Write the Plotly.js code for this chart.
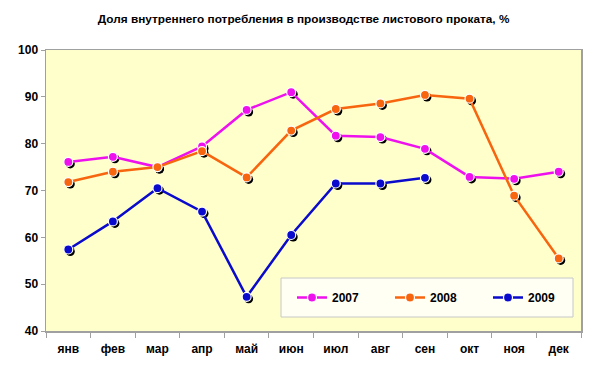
<!DOCTYPE html>
<html><head><meta charset="utf-8">
<script src="https://cdn.plot.ly/plotly-3.0.1.min.js"></script>
<style>html,body{margin:0;padding:0;background:#fff}#chart{width:600px;height:369px}</style>
</head><body><div id="chart"></div>
<script>
const months = ["янв","фев","мар","апр","май","июн","июл","авг","сен","окт","ноя","дек"];
const y2007 = [76.1, 77.2, 75.0, 79.4, 87.2, 91.0, 81.7, 81.4, 78.9, 72.9, 72.5, 74.0];
const y2008 = [71.8, 74.0, 75.0, 78.4, 72.8, 82.8, 87.4, 88.6, 90.4, 89.6, 68.9, 55.5];
const y2009 = [57.4, 63.4, 70.5, 65.5, 47.3, 60.5, 71.5, 71.5, 72.7, null, null, null];
const seriesNames = ["2007","2008","2009"];
const seriesColors = ["#EE11EE","#F8650F","#0A0ACC"];
const seriesData = [y2007, y2008, y2009];

const W = 600, H = 369;
const m = {l:46, r:19, t:50, b:38};
const pw = W - m.l - m.r, ph = H - m.t - m.b;
const sx = 2*12/pw, sy = 2*60/ph;   // 2px shadow offset in axis units
const FONT = 'Liberation Sans, Arial, sans-serif';

const traces = [];
// frame axis holder (no visible marks)
traces.push({x:months, y:months.map(()=>null), type:'scatter', mode:'lines', showlegend:false, hoverinfo:'skip'});
// shadows (drawn on a 2px-shifted overlay axis pair)
seriesData.forEach((d,i)=>{
  traces.push({x:months, y:d, type:'scatter', mode:'markers', xaxis:'x2', yaxis:'y2',
    marker:{color:'#000', size:9}, showlegend:false, hoverinfo:'skip'});
});
seriesData.forEach((d,i)=>{
  traces.push({x:months, y:d, name:seriesNames[i], type:'scatter', mode:'lines+markers', xaxis:'x3', yaxis:'y3',
    line:{color:seriesColors[i], width:2.5},
    marker:{color:seriesColors[i], size:9, line:{color:'#fff', width:1.2}}});
});
const axisCommon = {showgrid:false, zeroline:false};
const hiddenX = r => Object.assign({}, axisCommon, {type:'category', visible:false, categoryarray:months, categoryorder:'array', range:r});
const hiddenY = r => Object.assign({}, axisCommon, {range:r, visible:false});
const layout = {
  width:W, height:H, margin:m,
  paper_bgcolor:'#fff', plot_bgcolor:'#FFFFCC',
  font:{family:FONT, size:11, color:'#000'},
  title:{text:'Доля внутреннего потребления в производстве листового проката, %',
    x:0.506, xanchor:'center', y:1-19/H, yanchor:'middle', font:{size:11.8, weight:'bold'}},
  xaxis:Object.assign({}, axisCommon, {type:'category', domain:[0,1], categoryarray:months, categoryorder:'array', range:[-0.5,11.5],
    showline:true, linecolor:'#A0A0A0', linewidth:1.5,
    mirror:true, ticks:'outside', tickson:'boundaries', ticklen:5, tickcolor:'#A0A0A0',
    tickfont:{size:12, family:FONT, weight:'bold'}, ticklabelstandoff:6}),
  yaxis:Object.assign({}, axisCommon, {range:[40,100], dtick:10, showline:true, linecolor:'#A0A0A0', linewidth:1.5,
    mirror:true, ticks:'outside', ticklen:4, tickcolor:'#A0A0A0', tickfont:{size:12, family:FONT, weight:'bold'}}),
  xaxis2:Object.assign(hiddenX([-0.5 - sx, 11.5 - sx]), {overlaying:'x', anchor:'y2'}),
  yaxis2:Object.assign(hiddenY([40 + sy, 100 + sy]), {overlaying:'y', anchor:'x2'}),
  xaxis3:Object.assign(hiddenX([-0.5, 11.5]), {overlaying:'x', anchor:'y3'}),
  yaxis3:Object.assign(hiddenY([40, 100]), {overlaying:'y', anchor:'x3'}),
  shapes:[{type:'rect', xref:'paper', yref:'paper', x0:(281-46)/pw, x1:(573-46)/pw,
    y0:(331-317)/ph, y1:(331-278)/ph, fillcolor:'#FFFFF4', line:{color:'#C8C8C8', width:1}, layer:'below'}],
  legend:{orientation:'h', x:(292-46)/pw, xanchor:'left', y:(331-297.5)/ph, yanchor:'middle',
    bgcolor:'rgba(0,0,0,0)', borderwidth:0, entrywidth:53, entrywidthmode:'pixels',
    font:{size:12, family:FONT, weight:'bold'}, itemclick:false}
};
Plotly.newPlot('chart', traces, layout, {displayModeBar:false, staticPlot:true});
</script></body></html>
